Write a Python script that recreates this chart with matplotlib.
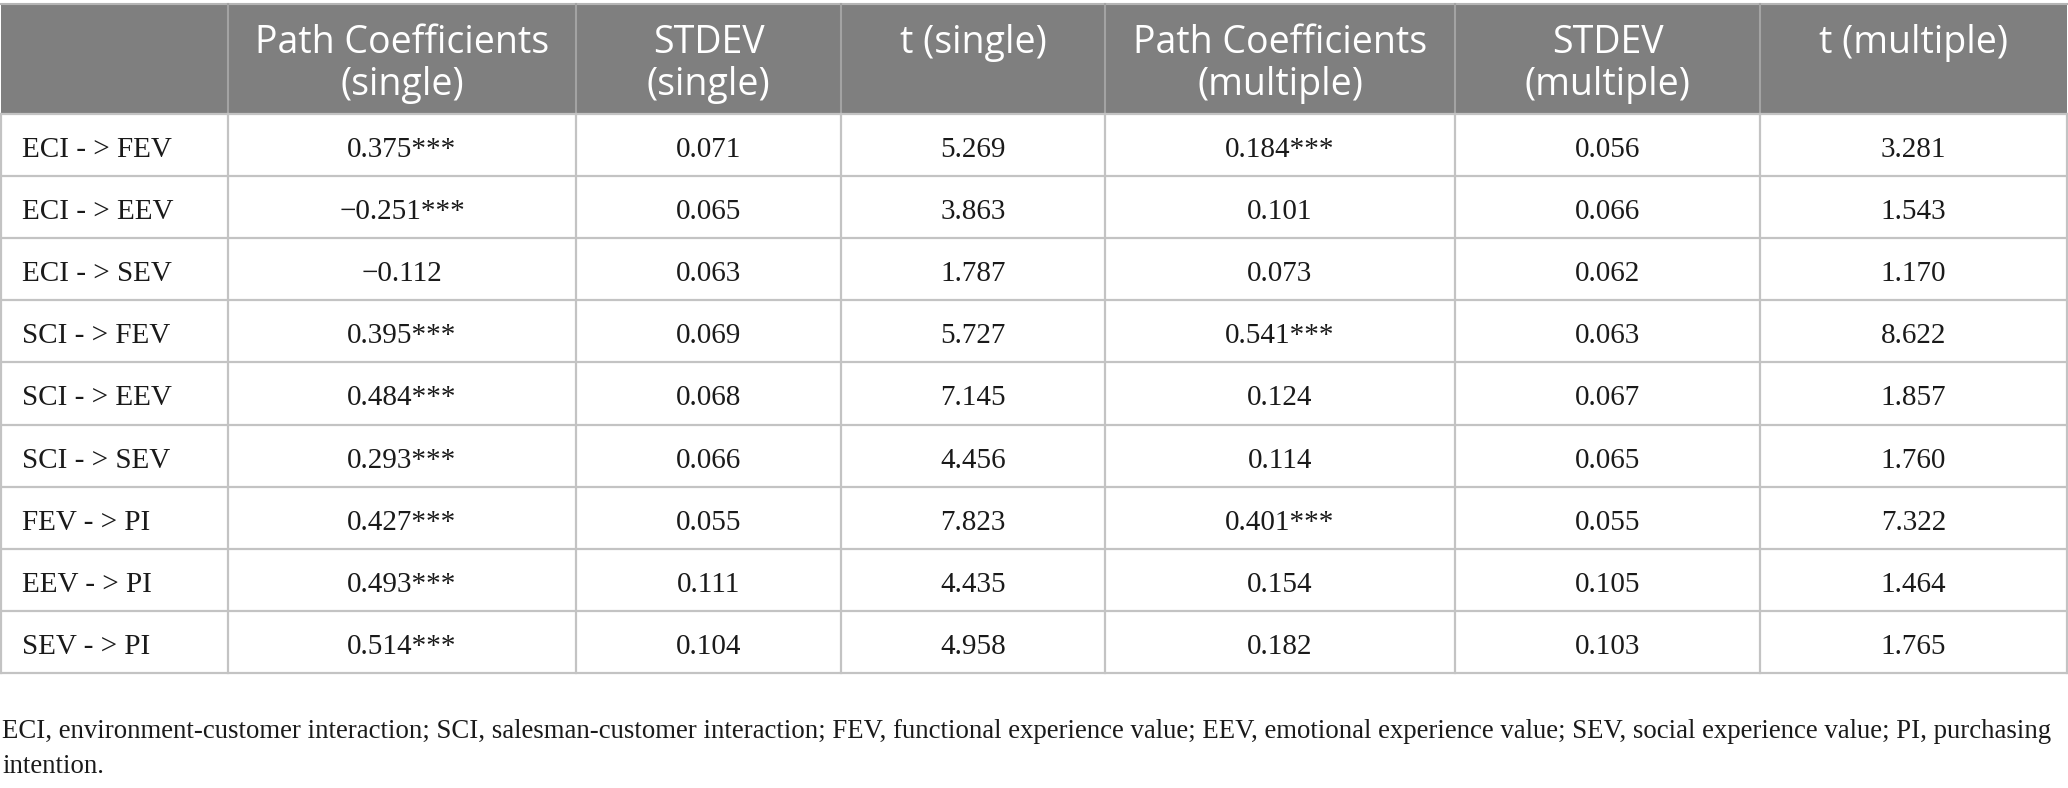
import matplotlib.pyplot as plt
from matplotlib.patches import Rectangle

# table content
headers = [
    ["", ""],
    ["Path Coefficients", "(single)"],
    ["STDEV", "(single)"],
    ["t (single)"],
    ["Path Coefficients", "(multiple)"],
    ["STDEV", "(multiple)"],
    ["t (multiple)"],
]
paths = ["ECI - > FEV", "ECI - > EEV", "ECI - > SEV", "SCI - > FEV", "SCI - > EEV",
         "SCI - > SEV", "FEV - > PI", "EEV - > PI", "SEV - > PI"]
coef_single = ["0.375***", "\u22120.251***", "\u22120.112", "0.395***", "0.484***",
               "0.293***", "0.427***", "0.493***", "0.514***"]
stdev_single = ["0.071", "0.065", "0.063", "0.069", "0.068", "0.066", "0.055", "0.111", "0.104"]
t_single = ["5.269", "3.863", "1.787", "5.727", "7.145", "4.456", "7.823", "4.435", "4.958"]
coef_multiple = ["0.184***", "0.101", "0.073", "0.541***", "0.124", "0.114", "0.401***",
                 "0.154", "0.182"]
stdev_multiple = ["0.056", "0.066", "0.062", "0.063", "0.067", "0.065", "0.055", "0.105", "0.103"]
t_multiple = ["3.281", "1.543", "1.170", "8.622", "1.857", "1.760", "7.322", "1.464", "1.765"]
footnote = ["ECI, environment-customer interaction; SCI, salesman-customer interaction; "
            "FEV, functional experience value; EEV, emotional experience value; "
            "SEV, social experience value; PI, purchasing",
            "intention."]

columns = [paths, coef_single, stdev_single, t_single, coef_multiple, stdev_multiple, t_multiple]

# layout in pixels
W, H = 2068, 788
col_edges = [1, 228, 576, 841, 1105, 1455, 1760, 2067]
top, head_bot = 4, 114
row_h = 62.1
header_bg = "#7f7f7f"
grid_c = "#c3c3c3"
serif = "Liberation Serif"
sans = "Open Sans"
body_size = 21

fig = plt.figure(figsize=(W / 100, H / 100), dpi=100)
ax = fig.add_axes([0, 0, 1, 1])
ax.set_xlim(0, W)
ax.set_ylim(H, 0)
ax.axis("off")

# header band
ax.add_patch(Rectangle((col_edges[0], top), col_edges[-1] - col_edges[0], head_bot - top,
                       facecolor=header_bg, edgecolor="none"))
ax.plot([col_edges[0], col_edges[-1]], [top, top], color="#b5b5b5", lw=1.5)
for x in col_edges[1:-1]:
    ax.plot([x, x], [top, head_bot], color="#a3a3a3", lw=1.5)

for j, lines in enumerate(headers):
    cx = (col_edges[j] + col_edges[j + 1]) / 2
    for k, s in enumerate(lines):
        ax.text(cx, 53 + 42 * k, s, ha="center", va="baseline", color="white",
                fontsize=27, family=sans)

# body grid
n = len(paths)
bottom = head_bot + n * row_h
for i in range(n + 1):
    y = head_bot + i * row_h
    ax.plot([col_edges[0], col_edges[-1]], [y, y], color=grid_c, lw=1.6)
for x in col_edges:
    ax.plot([x, x], [head_bot, bottom], color=grid_c, lw=1.6)

for j, col in enumerate(columns):
    for i, s in enumerate(col):
        y = head_bot + i * row_h + 43
        if j == 0:
            ax.text(col_edges[0] + 21, y, s, ha="left", va="baseline",
                    fontsize=body_size, family=serif, color="#1a1a1a")
        else:
            cx = (col_edges[j] + col_edges[j + 1]) / 2
            ax.text(cx, y, s, ha="center", va="baseline",
                    fontsize=body_size, family=serif, color="#1a1a1a")

# footnote, shrunk so the first line ends where the reference wraps
notes = [ax.text(2, y, s, ha="left", va="baseline", fontsize=body_size,
                 family=serif, color="#1a1a1a") for y, s in zip([738, 773], footnote)]
renderer = fig.canvas.get_renderer()
w = notes[0].get_window_extent(renderer).width
for t in notes:
    t.set_fontsize(body_size * 2044 / w)

fig.savefig("out.png", dpi=100)
